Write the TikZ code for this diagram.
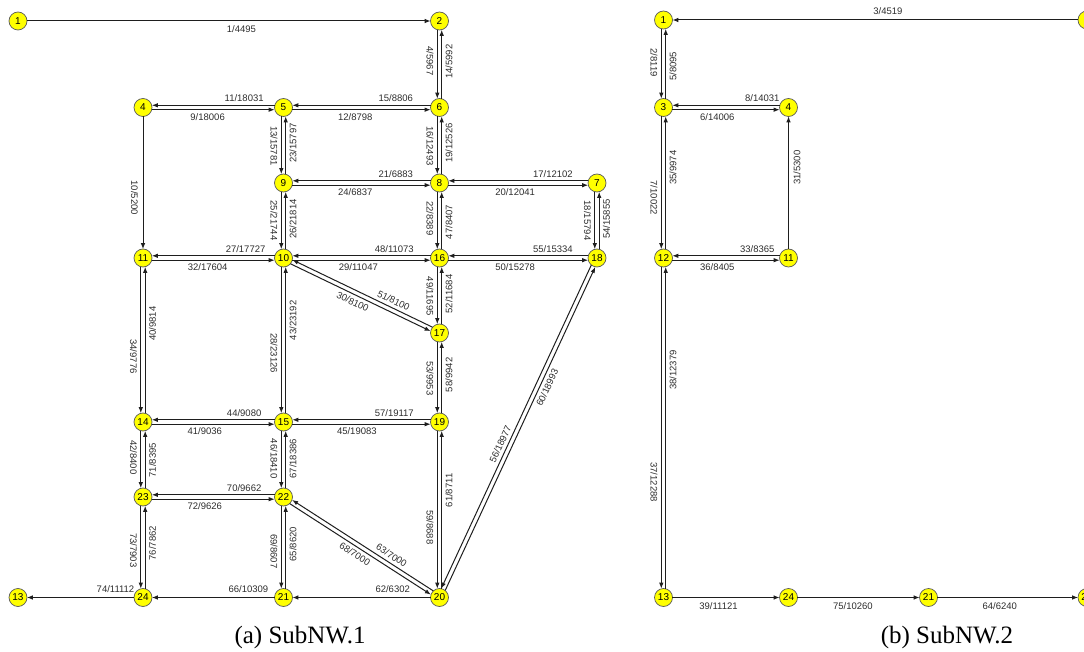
\documentclass[tikz,border=0pt]{standalone}
\usepackage{fontspec}
\setmainfont{Liberation Serif}
\newfontfamily\labelsans{Liberation Sans}
\usetikzlibrary{calc,arrows.meta}

\definecolor{nodeyellow}{RGB}{255,255,0}
\definecolor{nodering}{RGB}{90,90,90}
\definecolor{linkgray}{RGB}{30,30,30}
\definecolor{textgray}{RGB}{45,45,45}

\tikzset{
  junction/.style={circle, draw=nodering, fill=nodeyellow, line width=0.7pt,
    minimum size=18pt, inner sep=0pt, font=\labelsans\fontsize{10}{10}\selectfont},
  link/.style={draw=linkgray, line width=1pt, -{Latex[length=6pt,width=4.5pt]},
    shorten <=8.8pt, shorten >=8.8pt},
  weight/.style={font=\labelsans\fontsize{9.5}{10}\selectfont, text=textgray, inner sep=3.2pt},
  caption/.style={font=\fontsize{25}{28}\selectfont, anchor=base}
}

% directed link #2 -> #3, moved by #1 to its right-hand side
\newcommand{\dlink}[6]{%
  \draw[link] ($(#2)!#1!-90:(#3)$) -- node[weight, pos=#5, #6] {#4} ($(#3)!#1!90:(#2)$);}

\begin{document}
\begin{tikzpicture}[x=1pt, y=-1pt]

  \useasboundingbox (0,0) rectangle (1084,652);
  \clip (0,0) rectangle (1084,652);

  % Junctions of SubNW.1
  \foreach \n/\x/\y in {1/18/21, 2/439.5/21, 4/143/107.5, 5/283.5/107.5, 6/439.5/107.5,
      9/283.5/183, 8/439.5/183, 7/597/183, 11/143/258, 10/283.5/258, 16/439.5/258,
      18/597/258, 17/439.5/333, 14/143/422, 15/283.5/422, 19/439.5/422, 23/143/497,
      22/283.5/497, 13/18/597.5, 24/143/597.5, 21/283.5/597.5, 20/439.5/597.5}
    \node[junction] (a\n) at (\x,\y) {\n};

  % Junctions of SubNW.2
  \foreach \n/\x/\y in {1/663.5/20, 2/1087/20, 3/663.5/107.5, 4/788.5/107.5,
      12/663.5/258, 11/788.5/258, 13/663.5/597.5, 24/788.5/597.5, 21/928.5/597.5,
      20/1087/597.5}
    \node[junction] (b\n) at (\x,\y) {\n};

  % Two-way horizontal links
  \foreach \na/\nb/\ia/\wa/\pa/\ib/\wb/\pb in {a4/a5/9/18006/0.46/11/18031/0.28,
      a5/a6/12/8798/0.46/15/8806/0.28, a9/a8/24/6837/0.46/21/6883/0.28,
      a8/a7/20/12041/0.48/17/12102/0.28, a11/a10/32/17604/0.46/27/17727/0.27,
      a10/a16/29/11047/0.48/48/11073/0.29, a16/a18/50/15278/0.48/55/15334/0.28,
      a14/a15/41/9036/0.44/44/9080/0.28, a15/a19/45/19083/0.47/57/19117/0.29,
      a23/a22/72/9626/0.44/70/9662/0.28, b3/b4/6/14006/0.43/8/14031/0.21,
      b12/b11/36/8405/0.43/33/8365/0.25}{
    \dlink{2.2pt}{\na}{\nb}{\ia/\wa}{\pa}{anchor=north}
    \dlink{2.2pt}{\nb}{\na}{\ib/\wb}{\pb}{anchor=south}
  }

  % Two-way vertical links
  \foreach \na/\nb/\ia/\wa/\pa/\ib/\wb/\pb in {a2/a6/4/5967/0.46/14/5992/0.53,
      a5/a9/13/15781/0.51/23/15797/0.53, a6/a8/16/12493/0.51/19/12526/0.53,
      a9/a10/25/21744/0.5/26/21814/0.52, a8/a16/22/8389/0.47/47/8407/0.48,
      a7/a18/18/15794/0.5/54/15855/0.52, a11/a14/34/9776/0.6/40/9814/0.6,
      a10/a15/28/23126/0.58/43/23192/0.62, a16/a17/49/11695/0.51/52/11684/0.52,
      a17/a19/53/9953/0.51/58/9942/0.53, a14/a23/42/8400/0.47/71/8395/0.49,
      a15/a22/46/18410/0.49/67/18386/0.51, a19/a20/59/8688/0.6/61/8711/0.61,
      a23/a24/73/7903/0.53/76/7862/0.54, a22/a21/69/8607/0.54/65/8620/0.53,
      b1/b3/2/8119/0.49/5/8095/0.47, b3/b12/7/10022/0.6/35/9974/0.6,
      b12/b13/37/12288/0.66/38/12379/0.67}{
    \dlink{2.2pt}{\na}{\nb}{\ia/\wa}{\pa}{rotate=-90, anchor=north}
    \dlink{2.2pt}{\nb}{\na}{\ib/\wb}{\pb}{rotate=90, anchor=north}
  }

  % Two-way diagonal links
  \foreach \na/\nb/\ia/\wa/\pa/\ib/\wb/\pb in {a10/a17/30/8100/0.47/51/8100/0.32,
      a22/a20/68/7000/0.49/63/7000/0.34, a20/a18/60/18993/0.63/56/18977/0.56}{
    \dlink{2.2pt}{\na}{\nb}{\ia/\wa}{\pa}{sloped, anchor=north}
    \dlink{2.2pt}{\nb}{\na}{\ib/\wb}{\pb}{sloped, anchor=south}
  }

  % One-way links
  \dlink{0pt}{a1}{a2}{1/4495}{0.53}{anchor=north, inner sep=4.5pt}
  \dlink{0pt}{a4}{a11}{10/5200}{0.6}{rotate=-90, anchor=north, inner sep=4.5pt}
  \dlink{0pt}{a24}{a13}{74/11112}{0.22}{anchor=south, inner sep=4.5pt}
  \dlink{0pt}{a21}{a24}{66/10309}{0.25}{anchor=south, inner sep=4.5pt}
  \dlink{0pt}{a20}{a21}{62/6302}{0.3}{anchor=south, inner sep=4.5pt}
  \dlink{0pt}{b2}{b1}{3/4519}{0.47}{anchor=south, inner sep=4.5pt}
  \dlink{0pt}{b11}{b4}{31/5300}{0.6}{rotate=90, anchor=north, inner sep=4.5pt}
  \dlink{0pt}{b13}{b24}{39/11121}{0.44}{anchor=north, inner sep=4.5pt}
  \dlink{0pt}{b24}{b21}{75/10260}{0.46}{anchor=north, inner sep=4.5pt}
  \dlink{0pt}{b21}{b20}{64/6240}{0.45}{anchor=north, inner sep=4.5pt}

  % Captions
  \node[caption] (capa) at (300,643) {(a) SubNW.1};
  \node[caption] (capb) at (947,643) {(b) SubNW.2};

\end{tikzpicture}
\end{document}
